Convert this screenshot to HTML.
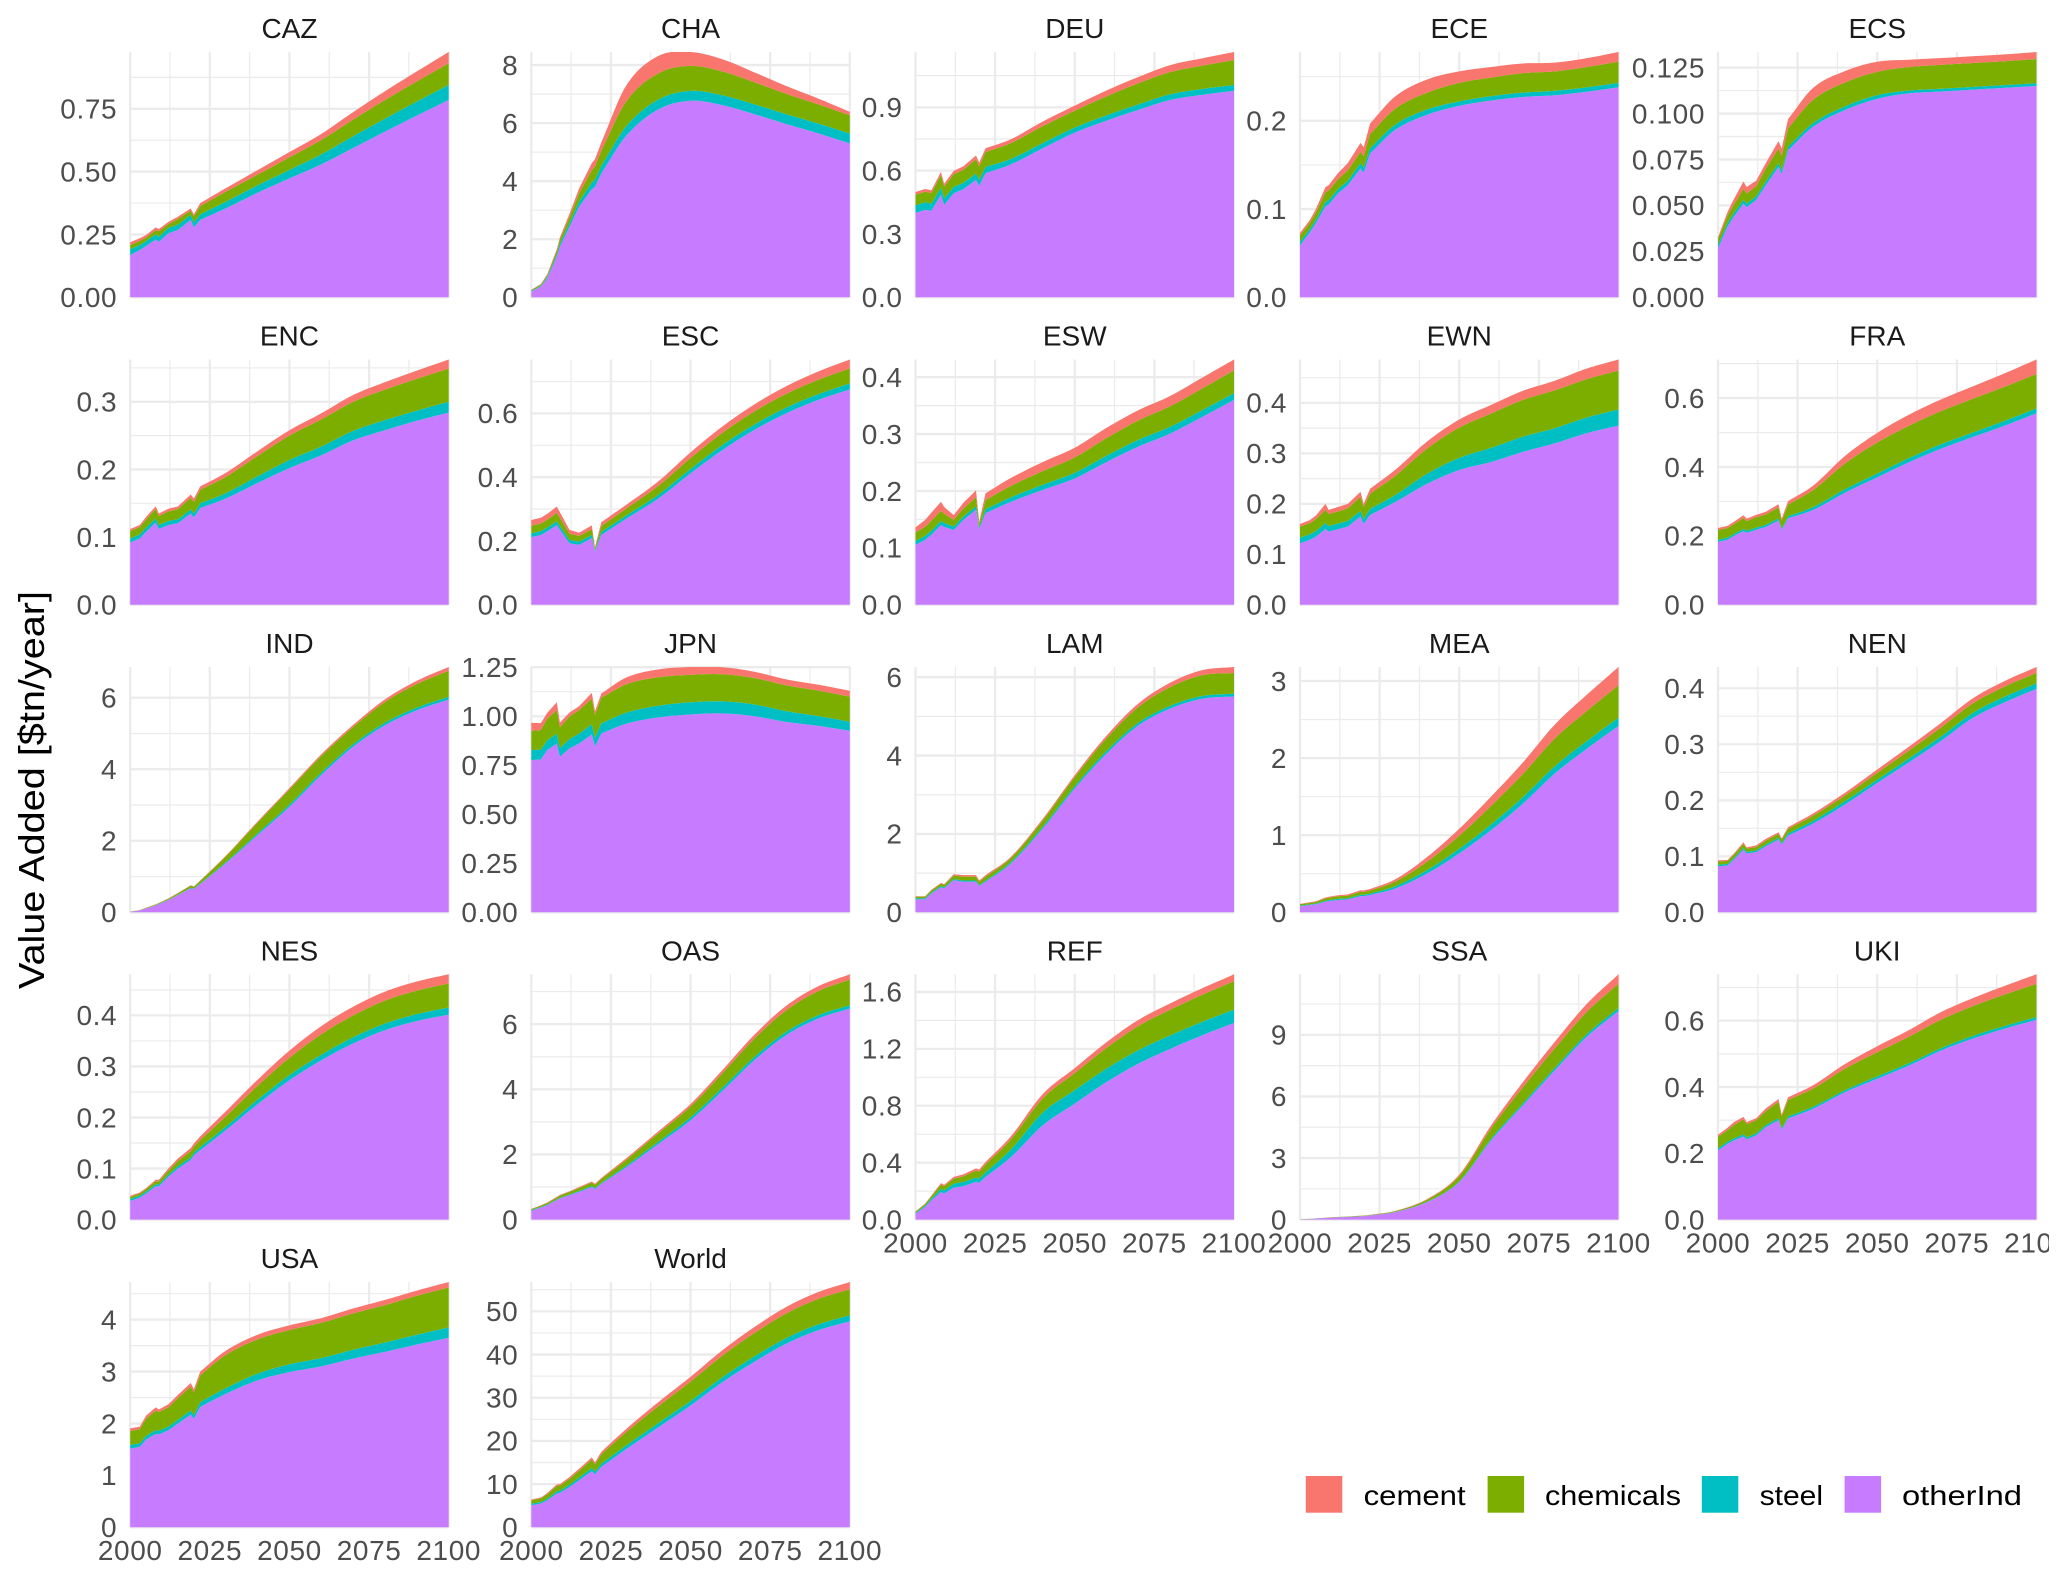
<!DOCTYPE html>
<html lang="en">
<head>
<meta charset="utf-8">
<title>Value Added by Region</title>
<style>
html,body{margin:0;padding:0;background:#fff;width:2067px;height:1578px;overflow:hidden}
svg{position:absolute;left:0;top:0;display:block}
text{font-family:"Liberation Sans",Arial,sans-serif}
.tick{font-size:28px;fill:#4d4d4d;letter-spacing:.6px}
.strip{font-size:28px;fill:#1a1a1a;text-anchor:middle}
.leg{font-size:28px;fill:#000}
</style>
</head>
<body>
<svg id="chart" width="2049" height="1578" viewBox="0 0 2049 1578" xmlns="http://www.w3.org/2000/svg">
  <g id="panels"></g>
  <text transform="translate(44,790) rotate(-90)" text-anchor="middle" font-size="36" fill="#000" textLength="398" lengthAdjust="spacingAndGlyphs">Value Added [$tn/year]</text>
  <g>
    <g>
      <rect x="1305.8" y="1476" width="36.5" height="36.7" fill="#F8766D"/>
      <text class="leg" x="1363.6" y="1505" textLength="102" lengthAdjust="spacingAndGlyphs">cement</text>
    </g>
    <g>
      <rect x="1487.6" y="1476" width="36.5" height="36.7" fill="#7CAE00"/>
      <text class="leg" x="1545" y="1505" textLength="136" lengthAdjust="spacingAndGlyphs">chemicals</text>
    </g>
    <g>
      <rect x="1701.8" y="1476" width="36.5" height="36.7" fill="#00BFC4"/>
      <text class="leg" x="1759.6" y="1505" textLength="63.5" lengthAdjust="spacingAndGlyphs">steel</text>
    </g>
    <g>
      <rect x="1844.6" y="1476" width="36.5" height="36.7" fill="#C77CFF"/>
      <text class="leg" x="1902" y="1505" textLength="120" lengthAdjust="spacingAndGlyphs">otherInd</text>
    </g>
  </g>
</svg>
<script>
const years=[2000,2003,2005,2008,2009,2012,2015,2019,2020,2022,2030,2040,2050,2060,2070,2080,2090,2100];
const xTicks=[2000,2025,2050,2075,2100];
const regions=["CAZ","CHA","DEU","ECE","ECS","ENC","ESC","ESW","EWN","FRA","IND","JPN","LAM","MEA","NEN","NES","OAS","REF","SSA","UKI","USA","World"];

const CAZ_ticks=["0.00","0.25","0.50","0.75"];
const CAZ_otherInd=[.168,.188,.204,.23,.221,.255,.268,.308,.278,.308,.354,.416,.473,.529,.594,.659,.723,.785];
const CAZ_steel=[.023,.02,.02,.021,.02,.021,.021,.02,.021,.022,.026,.03,.034,.04,.047,.052,.056,.06];
const CAZ_chemicals=[.017,.017,.014,.016,.022,.015,.023,.017,.023,.033,.04,.042,.05,.057,.066,.074,.08,.086];
const CAZ_cement=[.011,.01,.01,.011,.009,.009,.009,.009,.008,.012,.014,.018,.021,.024,.03,.035,.04,.045];

const CHA_ticks=["0","2","4","6","8"];
const CHA_otherInd=[.2,.37,.65,1.4,1.75,2.43,3.12,3.72,3.81,4.27,5.59,6.48,6.77,6.62,6.31,5.97,5.65,5.3];
const CHA_steel=[.02,.03,.05,.08,.1,.13,.18,.24,.25,.27,.33,.34,.34,.34,.34,.34,.34,.34];
const CHA_chemicals=[.03,.04,.06,.12,.14,.2,.28,.42,.45,.52,.86,.9,.86,.82,.76,.7,.66,.63];
const CHA_cement=[.01,.02,.03,.06,.08,.12,.17,.24,.25,.28,.55,.6,.48,.42,.34,.27,.2,.12];

const DEU_ticks=["0.0","0.3","0.6","0.9"];
const DEU_otherInd=[.4,.414,.41,.485,.437,.493,.512,.556,.528,.588,.63,.706,.78,.837,.888,.935,.959,.978];
const DEU_steel=[.036,.036,.034,.034,.032,.03,.03,.03,.028,.03,.026,.025,.024,.025,.026,.027,.028,.028];
const DEU_chemicals=[.05,.05,.05,.06,.055,.06,.062,.068,.065,.07,.075,.08,.08,.09,.1,.105,.11,.118];
const DEU_cement=[.013,.013,.013,.015,.014,.016,.016,.018,.017,.018,.018,.022,.024,.028,.03,.033,.035,.038];

const ECE_ticks=["0.0","0.1","0.2"];
const ECE_otherInd=[.059,.073,.084,.103,.105,.118,.127,.146,.141,.163,.19,.207,.217,.223,.227,.229,.233,.238];
const ECE_steel=[.004,.004,.004,.005,.005,.005,.005,.006,.006,.006,.006,.006,.005,.005,.005,.005,.005,.005];
const ECE_chemicals=[.007,.007,.008,.011,.011,.011,.012,.013,.013,.016,.018,.019,.021,.021,.022,.022,.023,.024];
const ECE_cement=[.003,.003,.004,.006,.006,.007,.008,.01,.01,.012,.014,.015,.013,.012,.011,.01,.01,.011];

const ECS_ticks=["0.000","0.025","0.050","0.075","0.100","0.125"];
const ECS_otherInd=[.0267,.0385,.044,.051,.049,.053,.061,.071,.067,.08,.093,.102,.108,.111,.112,.113,.114,.115];
const ECS_steel=[.002,.002,.002,.002,.002,.002,.002,.002,.002,.002,.002,.002,.002,.0015,.0015,.0015,.0015,.0015];
const ECS_chemicals=[.003,.004,.0045,.006,.0055,.0055,.007,.008,.008,.01,.0127,.013,.0127,.0128,.013,.013,.013,.0132];
const ECS_cement=[.001,.002,.003,.004,.0035,.003,.003,.004,.004,.005,.0065,.0062,.0055,.004,.0037,.0037,.0037,.0038];

const ENC_ticks=["0.0","0.1","0.2","0.3"];
const ENC_otherInd=[.092,.098,.108,.1215,.112,.118,.1205,.135,.129,.143,.157,.18,.202,.221,.243,.258,.272,.284];
const ENC_steel=[.006,.006,.006,.006,.006,.006,.006,.006,.006,.007,.008,.01,.012,.013,.014,.015,.015,.016];
const ENC_chemicals=[.011,.011,.012,.014,.013,.014,.015,.017,.017,.02,.024,.03,.036,.04,.043,.045,.047,.049];
const ENC_cement=[.003,.003,.004,.004,.004,.004,.004,.005,.005,.005,.006,.007,.008,.009,.01,.011,.012,.0135];

const ESC_ticks=["0.0","0.2","0.4","0.6"];
const ESC_otherInd=[.212,.219,.23,.25,.235,.193,.188,.209,.167,.219,.271,.334,.412,.485,.548,.6,.642,.675];
const ESC_steel=[.012,.012,.012,.012,.012,.01,.01,.01,.004,.01,.01,.012,.014,.016,.017,.018,.018,.019];
const ESC_chemicals=[.024,.024,.025,.026,.025,.02,.018,.018,.006,.018,.022,.028,.034,.038,.041,.043,.045,.047];
const ESC_cement=[.018,.018,.018,.02,.018,.012,.01,.012,.004,.012,.012,.014,.018,.02,.022,.024,.026,.028];

const ESW_ticks=["0.0","0.1","0.2","0.3","0.4"];
const ESW_otherInd=[.105,.114,.123,.14,.137,.1315,.149,.167,.133,.161,.181,.202,.222,.251,.278,.301,.33,.36];
const ESW_steel=[.007,.007,.007,.007,.007,.006,.006,.006,.003,.007,.008,.009,.01,.011,.012,.012,.012,.012];
const ESW_chemicals=[.015,.016,.018,.018,.016,.012,.014,.016,.006,.016,.02,.024,.027,.031,.034,.036,.038,.04];
const ESW_cement=[.009,.012,.014,.016,.012,.008,.01,.012,.004,.012,.014,.016,.017,.018,.018,.018,.019,.019];

const EWN_ticks=["0.0","0.1","0.2","0.3","0.4"];
const EWN_otherInd=[.122,.1285,.135,.15,.145,.15,.155,.175,.16,.178,.204,.24,.267,.283,.303,.32,.34,.355];
const EWN_steel=[.011,.011,.011,.012,.011,.011,.011,.011,.01,.012,.014,.02,.024,.028,.03,.03,.031,.032];
const EWN_chemicals=[.022,.022,.024,.026,.024,.024,.025,.028,.024,.03,.038,.05,.06,.068,.073,.075,.076,.077];
const EWN_cement=[.005,.006,.007,.012,.008,.009,.009,.01,.006,.01,.012,.014,.016,.017,.018,.019,.021,.022];

const FRA_ticks=["0.0","0.2","0.4","0.6"];
const FRA_otherInd=[.183,.189,.2,.214,.209,.218,.226,.245,.218,.251,.276,.326,.37,.414,.453,.487,.52,.556];
const FRA_steel=[.006,.006,.006,.006,.006,.006,.006,.006,.004,.006,.008,.01,.011,.012,.013,.013,.014,.014];
const FRA_chemicals=[.028,.028,.028,.032,.028,.03,.03,.032,.022,.034,.05,.075,.09,.094,.096,.098,.099,.1];
const FRA_cement=[.006,.006,.007,.008,.007,.007,.008,.009,.006,.01,.013,.022,.028,.032,.034,.036,.039,.042];

const IND_ticks=["0","2","4","6"];
const IND_otherInd=[.01,.05,.11,.19,.23,.34,.48,.67,.65,.79,1.37,2.16,2.95,3.84,4.63,5.23,5.65,5.95];
const IND_steel=[.002,.003,.005,.008,.008,.01,.012,.015,.015,.02,.03,.05,.065,.07,.07,.07,.075,.075];
const IND_chemicals=[.005,.008,.012,.02,.02,.03,.04,.06,.05,.07,.16,.3,.42,.46,.48,.58,.66,.73];
const IND_cement=[.002,.003,.004,.006,.006,.008,.01,.012,.01,.012,.02,.03,.04,.05,.06,.075,.09,.105];

const JPN_ticks=["0.00","0.25","0.50","0.75","1.00","1.25"];
const JPN_otherInd=[.776,.78,.827,.861,.793,.836,.861,.907,.847,.912,.963,.994,1.009,1.014,1.0,.971,.951,.926];
const JPN_steel=[.051,.05,.05,.05,.045,.048,.05,.052,.045,.052,.056,.06,.062,.062,.06,.055,.05,.046];
const JPN_chemicals=[.098,.1,.11,.12,.105,.115,.12,.13,.115,.13,.145,.145,.14,.138,.135,.132,.13,.128];
const JPN_cement=[.042,.035,.03,.04,.025,.02,.02,.03,.018,.022,.035,.04,.04,.036,.032,.03,.03,.03];

const LAM_ticks=["0","2","4","6"];
const LAM_otherInd=[.33,.33,.48,.64,.61,.82,.78,.78,.67,.78,1.25,2.14,3.16,4.05,4.77,5.2,5.45,5.51];
const LAM_steel=[.03,.03,.03,.03,.03,.03,.03,.03,.03,.03,.04,.05,.06,.07,.07,.07,.07,.07];
const LAM_chemicals=[.04,.04,.05,.06,.06,.09,.1,.1,.08,.1,.1,.16,.23,.32,.4,.48,.53,.53];
const LAM_cement=[.01,.01,.015,.02,.02,.03,.04,.04,.03,.04,.03,.04,.05,.07,.09,.11,.13,.15];

const MEA_ticks=["0","1","2","3"];
const MEA_otherInd=[.078,.095,.104,.138,.147,.16,.168,.21,.21,.224,.31,.505,.764,1.066,1.41,1.8,2.12,2.417];
const MEA_steel=[.008,.008,.01,.012,.012,.014,.014,.016,.016,.018,.03,.045,.06,.075,.085,.095,.1,.108];
const MEA_chemicals=[.018,.02,.022,.03,.03,.034,.035,.04,.04,.04,.06,.11,.17,.24,.3,.36,.39,.42];
const MEA_cement=[.006,.007,.008,.012,.012,.014,.016,.02,.018,.02,.03,.06,.09,.12,.15,.18,.21,.237];

const NEN_ticks=["0.0","0.1","0.2","0.3","0.4"];
const NEN_otherInd=[.082,.0835,.094,.112,.105,.1075,.118,.13,.121,.137,.159,.193,.231,.268,.306,.347,.375,.399];
const NEN_steel=[.003,.003,.003,.003,.003,.003,.003,.003,.003,.004,.005,.006,.006,.007,.008,.009,.01,.01];
const NEN_chemicals=[.006,.005,.006,.007,.006,.006,.007,.007,.006,.008,.009,.01,.012,.014,.016,.017,.018,.0185];
const NEN_cement=[.002,.002,.002,.003,.002,.003,.003,.003,.002,.003,.004,.005,.006,.007,.008,.009,.01,.0105];

const NES_ticks=["0.0","0.1","0.2","0.3","0.4"];
const NES_otherInd=[.0365,.043,.051,.065,.065,.084,.1,.117,.126,.136,.175,.226,.273,.312,.345,.371,.389,.4015];
const NES_steel=[.004,.004,.004,.004,.004,.004,.005,.005,.005,.006,.007,.009,.01,.011,.012,.013,.0135,.014];
const NES_chemicals=[.004,.004,.005,.006,.006,.008,.01,.012,.012,.014,.02,.027,.034,.04,.043,.045,.046,.047];
const NES_cement=[.002,.002,.002,.003,.003,.004,.005,.006,.006,.007,.01,.012,.014,.016,.017,.0175,.018,.018];

const OAS_ticks=["0","2","4","6"];
const OAS_otherInd=[.27,.37,.44,.6,.65,.75,.85,1.0,.94,1.1,1.62,2.33,3.05,3.95,4.89,5.66,6.17,6.48];
const OAS_steel=[.02,.02,.02,.02,.02,.02,.03,.03,.03,.03,.05,.07,.09,.1,.1,.1,.1,.1];
const OAS_chemicals=[.03,.04,.05,.06,.07,.08,.09,.11,.1,.12,.18,.26,.33,.44,.56,.66,.74,.79];
const OAS_cement=[.01,.01,.015,.02,.02,.02,.03,.03,.03,.03,.05,.06,.08,.1,.12,.14,.15,.16];

const REF_ticks=["0.0","0.4","0.8","1.2","1.6"];
const REF_otherInd=[.042,.089,.136,.194,.183,.225,.234,.265,.258,.3,.44,.663,.815,.967,1.096,1.2,1.295,1.382];
const REF_steel=[.006,.008,.012,.022,.022,.028,.03,.03,.03,.032,.055,.09,.095,.095,.095,.095,.095,.094];
const REF_chemicals=[.008,.012,.016,.03,.03,.035,.04,.05,.05,.055,.07,.1,.12,.145,.17,.18,.19,.2];
const REF_cement=[.002,.003,.005,.01,.01,.012,.014,.015,.014,.018,.022,.03,.035,.04,.043,.045,.046,.048];

const SSA_ticks=["0","3","6","9"];
const SSA_otherInd=[.01,.03,.05,.08,.09,.11,.13,.16,.17,.2,.37,.86,1.83,3.86,5.57,7.27,8.9,10.16];
const SSA_steel=[.001,.001,.002,.003,.003,.004,.004,.005,.005,.005,.01,.02,.04,.08,.1,.12,.13,.15];
const SSA_chemicals=[.003,.005,.007,.01,.01,.012,.015,.02,.02,.022,.04,.1,.25,.5,.78,.95,1.08,1.18];
const SSA_cement=[.001,.002,.002,.003,.003,.004,.005,.006,.006,.007,.01,.03,.07,.15,.25,.32,.39,.46];

const UKI_ticks=["0.0","0.2","0.4","0.6"];
const UKI_otherInd=[.209,.229,.239,.251,.242,.254,.279,.3,.271,.305,.335,.385,.425,.465,.51,.546,.576,.603];
const UKI_steel=[.006,.006,.006,.006,.006,.006,.006,.006,.005,.006,.006,.006,.007,.007,.007,.008,.008,.008];
const UKI_chemicals=[.035,.035,.04,.045,.04,.04,.042,.05,.035,.05,.055,.065,.073,.08,.086,.09,.095,.1];
const UKI_cement=[.006,.007,.009,.008,.006,.006,.008,.008,.006,.008,.01,.014,.018,.02,.023,.024,.026,.029];

const USA_ticks=["0","1","2","3","4"];
const USA_otherInd=[1.515,1.55,1.69,1.8,1.79,1.87,2.0,2.17,2.09,2.32,2.57,2.83,2.99,3.1,3.25,3.38,3.52,3.65];
const USA_steel=[.07,.07,.07,.07,.07,.07,.07,.08,.07,.09,.11,.13,.15,.16,.17,.18,.19,.2];
const USA_chemicals=[.27,.27,.33,.38,.36,.37,.42,.46,.44,.52,.64,.66,.66,.68,.7,.72,.75,.77];
const USA_cement=[.05,.05,.06,.06,.05,.06,.06,.07,.06,.07,.08,.09,.09,.09,.095,.1,.1,.105];

const World_ticks=["0","10","20","30","40","50"];
const World_otherInd=[5.1,5.5,6.25,7.8,8.0,9.3,10.9,13.0,12.3,14.0,18.2,23.2,28.2,33.6,38.3,42.5,45.6,47.7];
const World_steel=[.35,.35,.4,.5,.5,.55,.6,.7,.6,.75,.85,1.0,1.05,1.15,1.25,1.3,1.35,1.4];
const World_chemicals=[.8,.85,1.0,1.3,1.2,1.4,1.6,2.0,1.7,2.2,3.1,3.9,4.5,5,5.4,5.7,5.9,6];
const World_cement=[.2,.2,.25,.35,.3,.4,.45,.5,.45,.55,.75,.95,1.1,1.25,1.4,1.5,1.6,1.7];

const seriesNames=["otherInd","steel","chemicals","cement"];
const regionTicks={CAZ:CAZ_ticks,CHA:CHA_ticks,DEU:DEU_ticks,ECE:ECE_ticks,ECS:ECS_ticks,ENC:ENC_ticks,ESC:ESC_ticks,ESW:ESW_ticks,EWN:EWN_ticks,FRA:FRA_ticks,IND:IND_ticks,JPN:JPN_ticks,LAM:LAM_ticks,MEA:MEA_ticks,NEN:NEN_ticks,NES:NES_ticks,OAS:OAS_ticks,REF:REF_ticks,SSA:SSA_ticks,UKI:UKI_ticks,USA:USA_ticks,World:World_ticks};
const regionSeries={
 CAZ:[CAZ_otherInd,CAZ_steel,CAZ_chemicals,CAZ_cement],
 CHA:[CHA_otherInd,CHA_steel,CHA_chemicals,CHA_cement],
 DEU:[DEU_otherInd,DEU_steel,DEU_chemicals,DEU_cement],
 ECE:[ECE_otherInd,ECE_steel,ECE_chemicals,ECE_cement],
 ECS:[ECS_otherInd,ECS_steel,ECS_chemicals,ECS_cement],
 ENC:[ENC_otherInd,ENC_steel,ENC_chemicals,ENC_cement],
 ESC:[ESC_otherInd,ESC_steel,ESC_chemicals,ESC_cement],
 ESW:[ESW_otherInd,ESW_steel,ESW_chemicals,ESW_cement],
 EWN:[EWN_otherInd,EWN_steel,EWN_chemicals,EWN_cement],
 FRA:[FRA_otherInd,FRA_steel,FRA_chemicals,FRA_cement],
 IND:[IND_otherInd,IND_steel,IND_chemicals,IND_cement],
 JPN:[JPN_otherInd,JPN_steel,JPN_chemicals,JPN_cement],
 LAM:[LAM_otherInd,LAM_steel,LAM_chemicals,LAM_cement],
 MEA:[MEA_otherInd,MEA_steel,MEA_chemicals,MEA_cement],
 NEN:[NEN_otherInd,NEN_steel,NEN_chemicals,NEN_cement],
 NES:[NES_otherInd,NES_steel,NES_chemicals,NES_cement],
 OAS:[OAS_otherInd,OAS_steel,OAS_chemicals,OAS_cement],
 REF:[REF_otherInd,REF_steel,REF_chemicals,REF_cement],
 SSA:[SSA_otherInd,SSA_steel,SSA_chemicals,SSA_cement],
 UKI:[UKI_otherInd,UKI_steel,UKI_chemicals,UKI_cement],
 USA:[USA_otherInd,USA_steel,USA_chemicals,USA_cement],
 World:[World_otherInd,World_steel,World_chemicals,World_cement]
};

const seriesColors={otherInd:"#C77CFF",steel:"#00BFC4",chemicals:"#7CAE00",cement:"#F8766D"};
const colLeft=[130.2,531.3,915.5,1300,1718];
const rowTop=[52,359.5,667,974.3,1282];
const panelW=318.5, panelH=245.3;
const smoothFrom=9; // curves are drawn smoothly from the 2022 knot onward
const NS="http://www.w3.org/2000/svg";
const root=document.getElementById("panels");

function mk(tag,parent,attrs){
  const el=document.createElementNS(NS,tag);
  for(const k in attrs) el.setAttribute(k,attrs[k]);
  parent.appendChild(el);
  return el;
}

// Curve through the stacked boundary values: straight up to 2022 to keep the kinks, smooth after.
function boundaryPoints(vals){
  const pts=[];
  for(let i=0;i<smoothFrom;i++) pts.push([years[i],vals[i]]);
  const last=years.length-1;
  const slope=i=>{
    if(i===smoothFrom) return (vals[i+1]-vals[i])/(years[i+1]-years[i]);
    if(i===last) return (vals[i]-vals[i-1])/(years[i]-years[i-1]);
    return (vals[i+1]-vals[i-1])/(years[i+1]-years[i-1]);
  };
  for(let i=smoothFrom;i<last;i++){
    const h=years[i+1]-years[i];
    const m0=slope(i), m1=slope(i+1);
    for(let k=0;k<h;k++){
      const u=k/h;
      const a=(1+2*u)*(1-u)*(1-u), b=u*(1-u)*(1-u), c=u*u*(3-2*u), d=u*u*(u-1);
      pts.push([years[i]+k,a*vals[i]+b*h*m0+c*vals[i+1]+d*h*m1]);
    }
  }
  pts.push([years[last],vals[last]]);
  return pts;
}

function drawPanel(region,index){
  const col=index%5, row=Math.floor(index/5);
  const left=colLeft[col], top=rowTop[row], bottom=top+panelH;
  const hasXAxis=row===4||(row===3&&col>=2);
  const stackedSeries=regionSeries[region];
  const totals=years.map((_,i)=>stackedSeries.reduce((a,s)=>a+s[i],0));
  const yMax=Math.max.apply(null,totals);
  const sx=v=>left+(v-years[0])/(years[years.length-1]-years[0])*panelW;
  const sy=v=>bottom-v/yMax*panelH;

  const g=mk("g",root,{});
  
  

  const title=mk("text",g,{class:"strip",x:left+panelW/2,y:top-14});
  
  
  title.textContent=region;

  const tickVals=regionTicks[region].map(Number);
  const step=tickVals[1]-tickVals[0];
  for(let v=step/2;v<yMax;v+=step){
    const minorY=mk("line",g,{x1:left,x2:left+panelW,y1:sy(v),y2:sy(v),stroke:"#ebebeb","stroke-width":1.2});
    
    
  }
  for(let i=0;i<xTicks.length-1;i++){
    const mid=(xTicks[i]+xTicks[i+1])/2;
    const minorX=mk("line",g,{x1:sx(mid),x2:sx(mid),y1:top,y2:bottom,stroke:"#ebebeb","stroke-width":1.2});
    
    
  }
  tickVals.forEach(v=>{
    const majorY=mk("line",g,{x1:left,x2:left+panelW,y1:sy(v),y2:sy(v),stroke:"#ebebeb","stroke-width":2.3});
    
    
  });
  xTicks.forEach(v=>{
    const majorX=mk("line",g,{x1:sx(v),x2:sx(v),y1:top,y2:bottom,stroke:"#ebebeb","stroke-width":2.3});
    
    
  });

  const base=years.map(()=>0);
  seriesNames.forEach((name,si)=>{
    const lowerPts=boundaryPoints(base);
    stackedSeries[si].forEach((v,i)=>{base[i]+=v;});
    const upperPts=boundaryPoints(base);
    let d="";
    upperPts.forEach((p,i)=>{d+=(i?"L":"M")+sx(p[0]).toFixed(2)+" "+Math.max(top,sy(p[1])).toFixed(2);});
    for(let i=lowerPts.length-1;i>=0;i--){d+="L"+sx(lowerPts[i][0]).toFixed(2)+" "+Math.max(top,sy(lowerPts[i][1])).toFixed(2);}
    const area=mk("path",g,{d:d+"Z",fill:seriesColors[name]});
    
    
  });

  regionTicks[region].forEach((label,i)=>{
    const t=mk("text",g,{class:"tick",x:left-13,y:sy(tickVals[i])+9.8,"text-anchor":"end"});
    
    
    t.textContent=label;
  });
  if(hasXAxis){
    xTicks.forEach(v=>{
      const t=mk("text",g,{class:"tick",x:sx(v),y:bottom+32.8,"text-anchor":"middle"});
      
      
      t.textContent=String(v);
    });
  }
}
regions.forEach(drawPanel);
</script>
</body>
</html>
